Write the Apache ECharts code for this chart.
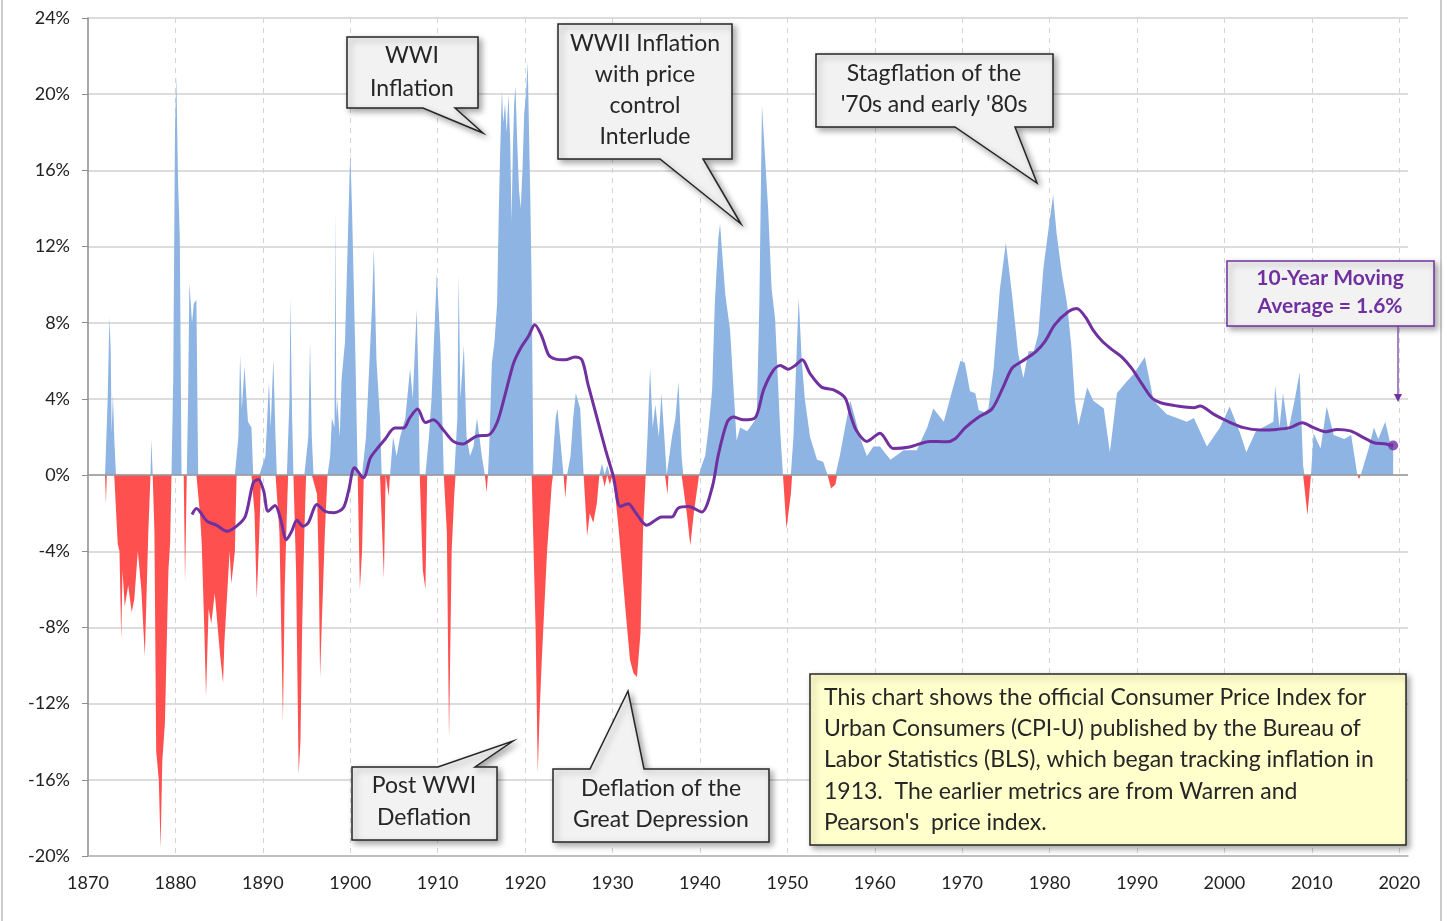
<!DOCTYPE html>
<html>
<head>
<meta charset="utf-8">
<script src="https://cdn.jsdelivr.net/npm/echarts@6.0.0/dist/echarts.min.js"></script>
<style>
  html, body { margin: 0; padding: 0; background: #fff; }
  #chart { width: 1447px; height: 921px; }
</style>
</head>
<body>
<div id="chart"></div>
<script>
// year-over-year CPI change (%)
const cpiYears = [
  1871.95, 1872.05, 1872.15, 1872.25, 1872.45, 1872.6, 1872.7, 1872.85, 1873.0, 1873.2,
  1873.4, 1873.6, 1873.8, 1873.95, 1874.2, 1874.6, 1875.0, 1875.3, 1875.7, 1876.1,
  1876.5, 1876.9, 1877.15, 1877.25, 1877.4, 1877.6, 1877.8, 1878.1, 1878.3, 1878.5,
  1878.8, 1879.2, 1879.4, 1879.55, 1879.75, 1879.95, 1880.1, 1880.3, 1880.5, 1880.7,
  1880.95, 1881.1, 1881.3, 1881.45, 1881.6, 1881.9, 1882.1, 1882.4, 1882.6, 1882.8,
  1883.0, 1883.3, 1883.5, 1883.8, 1884.1, 1884.5, 1885.1, 1885.45, 1885.6, 1886.2,
  1886.4, 1886.8, 1887.0, 1887.2, 1887.4, 1887.6, 1887.9, 1888.3, 1888.7, 1888.9,
  1889.05, 1889.3, 1889.6, 1889.8, 1890.3, 1890.7, 1890.9, 1891.2, 1891.45, 1891.6,
  1891.9, 1892.3, 1892.5, 1892.75, 1892.9, 1893.05, 1893.15, 1893.35, 1893.5, 1893.8,
  1894.1, 1894.3, 1894.5, 1894.75, 1894.95, 1895.2, 1895.4, 1895.6, 1895.8, 1896.2,
  1896.4, 1896.55, 1896.7, 1897.1, 1897.4, 1897.7, 1897.9, 1898.2, 1898.3, 1898.4,
  1898.5, 1898.8, 1899.0, 1899.4, 1899.7, 1900.0, 1900.2, 1900.6, 1900.85, 1901.1,
  1901.35, 1901.55, 1901.8, 1902.1, 1902.5, 1902.7, 1903.0, 1903.4, 1903.6, 1903.85,
  1904.05, 1904.25, 1904.4, 1904.55, 1904.9, 1905.3, 1905.7, 1906.3, 1906.85, 1907.15,
  1907.6, 1907.8, 1907.95, 1908.3, 1908.6, 1908.8, 1909.0, 1909.3, 1909.9, 1910.3,
  1910.7, 1911.05, 1911.3, 1911.6, 1911.9, 1912.05, 1912.25, 1912.4, 1912.6, 1913.0,
  1913.3, 1913.7, 1914.1, 1914.5, 1915.05, 1915.4, 1915.6, 1915.75, 1915.9, 1916.2,
  1916.5, 1916.8, 1917.0, 1917.15, 1917.35, 1917.5, 1917.7, 1917.9, 1918.1, 1918.3,
  1918.45, 1918.6, 1918.75, 1918.9, 1919.1, 1919.3, 1919.5, 1919.7, 1919.9, 1920.1,
  1920.3, 1920.45, 1920.6, 1920.75, 1920.85, 1920.95, 1921.2, 1921.45, 1921.7, 1921.9,
  1922.5, 1923.05,
  1923.2, 1923.5, 1923.7, 1924.0, 1924.4, 1924.6, 1924.8, 1925.2, 1925.5, 1925.8,
  1926.3, 1926.7, 1927.1, 1927.4, 1927.8, 1928.2, 1928.5, 1928.8, 1929.1, 1929.4,
  1929.7, 1930.0, 1930.3, 1930.7, 1931.45, 1932.0, 1932.4, 1932.8, 1933.2, 1933.5,
  1933.8, 1934.0, 1934.3, 1934.6, 1934.9, 1935.3, 1935.6, 1936.0, 1936.2, 1936.3,
  1936.4, 1936.8, 1937.2, 1937.55, 1937.9, 1938.1, 1938.5, 1938.9, 1939.3, 1939.6,
  1939.9, 1940.2, 1940.6, 1941.0, 1941.4, 1941.7, 1942.1, 1942.3, 1942.9, 1943.45,
  1943.8, 1944.2, 1944.6, 1945.4, 1946.5, 1946.8, 1947.1, 1947.45, 1947.8, 1948.2,
  1948.6, 1949.2, 1949.5, 1949.9, 1950.4, 1950.55, 1950.7, 1951.3, 1951.65, 1952.0,
  1952.6, 1953.4, 1954.1, 1954.6, 1955.0, 1955.5, 1955.7, 1956.0, 1956.6, 1957.2,
  1957.75, 1958.3, 1959.1, 1959.85, 1960.6, 1961.8, 1963.3, 1964.8, 1966.0, 1966.7,
  1967.9, 1968.6, 1969.2, 1969.8, 1970.3, 1970.9, 1971.5, 1971.9, 1972.6, 1973.0,
  1973.6, 1974.3, 1975.0, 1975.7, 1976.4, 1977.0, 1977.6, 1978.2, 1978.7, 1979.3,
  1979.9, 1980.4, 1980.8, 1981.4, 1982.0, 1982.5, 1982.9, 1983.3, 1984.3, 1985.0,
  1986.2, 1986.9, 1987.7, 1988.8, 1989.6, 1990.9, 1991.9, 1993.4, 1995.7, 1996.5,
  1998.0, 1999.5, 2000.6, 2001.8, 2002.5, 2003.6, 2005.6, 2005.8, 2006.3, 2006.7,
  2007.3, 2008.1, 2008.6, 2009.0, 2009.15, 2009.5, 2009.9, 2010.2, 2011.0, 2011.7,
  2012.5, 2013.7, 2014.5, 2015.2, 2015.4, 2015.6, 2016.5, 2017.1, 2017.6, 2018.4,
  2019.0, 2019.3
];
const cpiPct = [
  0, -1.5, 0, 4, 8.3, 6.5, 2.2, 4.2, 2, 0,
  -3.6, -4, -8.6, -5, -6.9, -5.8, -7.2, -6.5, -4, -6,
  -9.5, -3, 0, 1.9, 0, -3, -14.5, -16, -19.6, -15,
  -13, -5, -3.5, 0, 5, 18, 21, 15.5, 12.5, 0,
  0, -5.6, 0, 4, 10.1, 8, 9, 9.2, 0, -2,
  -3.5, -8, -11.6, -7, -7.8, -6.2, -9.4, -10.9, -8.8, -4,
  -5.7, -4, 0, 2, 6.3, 3.5, 5.7, 2.8, 2.5, 0,
  -2, -6.5, -3, 0, 1, 4.9, 2.5, 6.1, 2, 0,
  -3, -12.9, -6, -2, 0, 4, 9.3, 3, 0, -5,
  -15.7, -14, -8, -3, 0, 2, 7, 2, 0, -1,
  -5, -10.6, -8.4, -3, 0, 1, 3, 2.5, 13.9, 3,
  4, 2, 5, 7, 12, 17, 14, 6, 0, -6,
  -4, 0, 2, 5, 9, 11.9, 6, 3, 0, -5.4,
  0, 0, -1.1, 0, 2, 1, 2, 3, 5.6, 4,
  8.7, 5, 0, -5, -6, 0, 2, 4, 10.6, 7,
  0, -3, -13.8, -4, -1, 0, 3, 10.5, 4, 6.8,
  2, 1, 1.5, 3, 1, 0, -0.9, 0, 1.5, 5.9,
  7, 9, 14, 17, 20.2, 18.5, 19.5, 18, 20, 17.5,
  13.3, 17, 19.5, 20.4, 17.5, 15, 14, 16, 19, 20,
  21.7, 18, 14.5, 10, 5, 0, -8, -15.6, -12, -9.8,
  -4.1, -0.5,
  0, 3, 3.5, 2, 0, -1.2, 0, 1, 3, 4.3,
  3.5, 0, -3.2, -2, -2.5, -1.5, 0, 0.6, -0.6, 0.5,
  -0.5, 0, -1, -2.8, -6.9, -9.7, -10.4, -10.6, -8.3, -2.9,
  0, 2, 5.6, 2.5, 3.7, 2, 4.3, 1.5, 0, -1,
  0, 2, 3, 4.9, 1, 0, -2, -3.7, -2, -1,
  0, 0.5, 1, 2.5, 4.5, 9, 12.4, 13.2, 9.5, 7.6,
  4.9, 1.8, 2.5, 2.3, 3, 9, 19.4, 16.7, 14, 9.8,
  8.2, 2.2, 0, -2.8, -1, 0, 2, 9.3, 6, 4,
  2, 0.8, 0.7, 0, -0.7, -0.5, 0, 1, 2.5, 3.9,
  3, 2, 1, 1.5, 1.5, 0.8, 1.3, 1.3, 2.5, 3.5,
  2.8, 4, 5, 6, 5.9, 4.4, 4.3, 3.4, 3.3, 3.5,
  5.6, 9.7, 12.2, 9.5, 6.4, 5.1, 6.5, 6.5, 7.4, 10.9,
  13.0, 14.7, 12.7, 10.6, 9.0, 6.7, 3.9, 2.6, 4.6, 3.9,
  3.5, 1.2, 4.3, 4.9, 5.3, 6.2, 3.9, 3.2, 2.8, 3.0,
  1.5, 2.5, 3.6, 2.2, 1.2, 2.3, 2.8, 4.7, 2.5, 4.3,
  2.3, 4.1, 5.4, 0.5, 0, -2.1, 0, 2.2, 1.4, 3.6,
  2.1, 1.9, 2.1, 0, -0.2, 0, 1.4, 2.5, 1.9, 2.8,
  1.6, 1.7
];

// 10-year moving average (%)
const maYears = [
  1881.9, 1882.4, 1883.6, 1884.7, 1885.9, 1887.0, 1888.0, 1888.9, 1889.5, 1890.1,
  1890.6, 1891.4, 1892.0, 1892.7, 1893.3, 1893.9, 1894.6, 1895.2, 1896.2, 1897.1,
  1898.1, 1899.2, 1899.8, 1900.5, 1901.5, 1902.3, 1903.1, 1904.0, 1905.1, 1906.1,
  1906.8, 1907.7, 1908.6, 1909.5, 1910.7, 1911.8, 1912.9, 1913.5, 1914.5, 1915.8,
  1916.8, 1917.7, 1918.7, 1919.6, 1920.4, 1921.1, 1921.9, 1922.7, 1923.4, 1924.6,
  1925.7, 1926.5, 1927.2, 1928.2, 1929.2, 1930.1, 1930.9, 1931.8, 1932.6, 1933.9,
  1934.9, 1935.6, 1936.8, 1937.5, 1938.7, 1940.2, 1941.4, 1942.1, 1943.1, 1943.8,
  1945.0, 1946.3, 1947.3, 1948.4, 1949.2, 1950.1, 1950.9, 1951.7, 1952.6, 1953.9,
  1955.3, 1956.6, 1957.2, 1957.9, 1959.1, 1960.6, 1962.1, 1964.0, 1966.3, 1968.2,
  1969.2, 1970.3, 1971.9, 1973.4, 1974.7, 1975.7, 1976.8, 1978.4, 1979.5, 1980.6,
  1982.2, 1983.1, 1984.1, 1985.0, 1986.0, 1987.1, 1988.3, 1989.4, 1990.6, 1991.7,
  1992.7, 1994.6, 1996.5, 1997.2, 1998.8, 2000.3, 2002.2, 2004.1, 2006.0, 2007.5,
  2008.9, 2010.2, 2011.6, 2012.9, 2014.4, 2015.6, 2017.1, 2018.3, 2019.3
];
const maPct = [
  -2.07, -1.75, -2.42, -2.63, -2.95, -2.68, -2.16, -0.4, -0.23, -0.84,
  -1.9, -1.6, -2.25, -3.39, -2.95, -2.37, -2.68, -2.5, -1.54, -1.9,
  -1.98, -1.72, -0.84, 0.38, -0.14, 0.9, 1.4, 1.9, 2.47, 2.47,
  3.0, 3.47, 2.76, 2.9, 2.34, 1.77, 1.63, 1.77, 2.05, 2.1,
  2.76, 4.2, 5.9, 6.75, 7.3, 7.9, 7.3, 6.3, 6.1, 6.05,
  6.2, 6.05, 4.76, 3.05, 1.34, -0.08, -1.65, -1.5, -1.94, -2.63,
  -2.37, -2.2, -2.2, -1.74, -1.65, -1.94, -0.65, 1.05, 2.76, 3.05,
  2.9, 3.0, 4.5, 5.5, 5.75, 5.56, 5.76, 6.05, 5.33, 4.63,
  4.47, 4.05, 3.19, 2.34, 1.77, 2.2, 1.4, 1.48, 1.77, 1.75,
  1.91, 2.47, 3.05, 3.47, 4.63, 5.61, 5.96, 6.47, 7.04, 7.9,
  8.6, 8.75, 8.3, 7.6, 7.04, 6.6, 6.18, 5.6, 4.76, 4.05,
  3.8, 3.63, 3.54, 3.63, 3.19, 2.84, 2.49, 2.37, 2.4, 2.49,
  2.75, 2.49, 2.28, 2.4, 2.32, 2.05, 1.7, 1.65, 1.55
];

const FONT = 'Lato, "Open Sans", sans-serif';
const INK = '#262626';
const PURPLE = '#7030A0';
const BLUE = '#8DB4E2';
const RED = '#FF5050';

const chart = echarts.init(document.getElementById('chart'));

function callout(points, text, cx, cy, lineHeight, opts) {
  opts = opts || {};
  return [
    {
      type: 'polygon',
      z: 100,
      shape: { points: points },
      style: {
        fill: opts.fill || '#F2F2F2',
        stroke: opts.stroke || INK,
        lineWidth: 1.5,
        shadowBlur: 6,
        shadowOffsetX: 3,
        shadowOffsetY: 3,
        shadowColor: 'rgba(0,0,0,0.35)'
      }
    },
    {
      type: 'text',
      z: 101,
      style: {
        text: text,
        x: cx,
        y: cy,
        fill: opts.color || INK,
        font: (opts.weight || 'normal') + ' ' + (opts.size || 23) + 'px ' + FONT,
        align: opts.align || 'center',
        verticalAlign: 'middle',
        lineHeight: lineHeight
      }
    }
  ];
}

const graphics = [].concat(
  // outer chart frame
  [{
    type: 'rect', z: 0, silent: true,
    shape: { x: 2, y: -4, width: 1439, height: 930 },
    style: { fill: 'none', stroke: '#bcbcbc', lineWidth: 1.5 }
  }],
  callout([[347, 37], [478, 37], [478, 108], [455, 108], [483, 133], [423, 108], [347, 108]],
    'WWI\nInflation', 412, 72, 33),
  callout([[558, 24], [732, 24], [732, 159], [703, 159], [741, 224], [660, 159], [558, 159]],
    'WWII Inflation\nwith price\ncontrol\nInterlude', 645, 90, 31),
  callout([[816, 54], [1053, 54], [1053, 127], [1015, 127], [1037, 183], [955, 127], [816, 127]],
    'Stagflation of the\n\'70s and early \'80s', 934, 89, 31),
  callout([[352, 767], [438, 767], [513, 741], [475, 767], [497, 767], [497, 840], [352, 840]],
    'Post WWI\nDeflation', 424, 802, 32),
  callout([[553, 769], [590, 769], [628, 691], [644, 769], [769, 769], [769, 842], [553, 842]],
    'Deflation of the\nGreat Depression', 661, 804, 31),
  callout([[1227, 261], [1434, 261], [1434, 326], [1227, 326]],
    '10-Year Moving\nAverage = 1.6%', 1330, 292, 28,
    { stroke: PURPLE, color: PURPLE, weight: 'bold', size: 21 }),
  [
    {
      type: 'line', z: 100, silent: true,
      shape: { x1: 1398, y1: 326, x2: 1398, y2: 396 },
      style: { stroke: PURPLE, lineWidth: 1.2 }
    },
    {
      type: 'polygon', z: 100, silent: true,
      shape: { points: [[1394, 394], [1402, 394], [1398, 402]] },
      style: { fill: PURPLE }
    }
  ],
  callout([[810, 674], [1406, 674], [1406, 845], [810, 845]],
    'This chart shows the official Consumer Price Index for\n' +
    'Urban Consumers (CPI-U) published by the Bureau of\n' +
    'Labor Statistics (BLS), which began tracking inflation in\n' +
    '1913.  The earlier metrics are from Warren and\n' +
    'Pearson\'s  price index.',
    824, 760, 31.25, { fill: '#FFFFCC', align: 'left', size: 23 })
);

// positive and negative parts of the same series, drawn as two areas
const upData = cpiYears.map((y, i) => [y, Math.max(cpiPct[i], 0)]);
const downData = cpiYears.map((y, i) => [y, Math.min(cpiPct[i], 0)]);

const option = {
  animation: false,
  backgroundColor: '#fff',
  grid: {
    left: 88, right: 39, top: 18, bottom: 65,
    containLabel: false, outerBoundsMode: 'none'
  },
  xAxis: {
    type: 'value',
    min: 1870, max: 2021, interval: 10,
    axisLine: { show: true, onZero: false, lineStyle: { color: '#b4b4b4', width: 1.5 } },
    axisTick: { show: false },
    axisLabel: {
      margin: 18, color: '#222', fontSize: 18, fontFamily: FONT,
      showMaxLabel: false,
      formatter: v => (v % 10 === 0 ? String(v) : '')
    },
    splitLine: {
      show: true, showMinLine: false, showMaxLine: false,
      lineStyle: { color: '#d4d4d4', type: [5, 5], width: 1 }
    }
  },
  yAxis: {
    type: 'value',
    min: -20, max: 24, interval: 4,
    axisLine: { show: true, lineStyle: { color: '#8c8c8c', width: 1.5 } },
    axisTick: { show: true, inside: false, length: 6, lineStyle: { color: '#8c8c8c' } },
    axisLabel: {
      margin: 18, color: '#222', fontSize: 18, fontFamily: FONT,
      formatter: v => v + '%'
    },
    splitLine: { show: true, lineStyle: { color: '#d0d0d0', width: 1.5 } }
  },
  series: [
    {
      name: 'Inflation',
      type: 'line',
      data: upData,
      showSymbol: false,
      symbol: 'none',
      lineStyle: { width: 0 },
      areaStyle: { color: BLUE, opacity: 1 },
      z: 2
    },
    {
      name: 'Deflation',
      type: 'line',
      data: downData,
      showSymbol: false,
      symbol: 'none',
      lineStyle: { width: 0 },
      areaStyle: { color: RED, opacity: 1 },
      z: 2
    },
    {
      name: 'Zero',
      type: 'line',
      data: [[1870, 0], [2021, 0]],
      showSymbol: false,
      symbol: 'none',
      silent: true,
      lineStyle: { color: '#9a9a9a', width: 1.5 },
      z: 3
    },
    {
      name: '10-Year Moving Average',
      type: 'line',
      data: maYears.map((y, i) => [y, maPct[i]]),
      showSymbol: false,
      symbol: 'none',
      smooth: 0.3,
      lineStyle: { color: PURPLE, width: 3 },
      z: 5
    },
    {
      name: 'Latest',
      type: 'scatter',
      data: [[maYears[maYears.length - 1], maPct[maPct.length - 1]]],
      symbolSize: 10,
      itemStyle: { color: PURPLE },
      z: 6
    }
  ],
  graphic: { elements: graphics }
};

chart.setOption(option);
</script>
</body>
</html>
